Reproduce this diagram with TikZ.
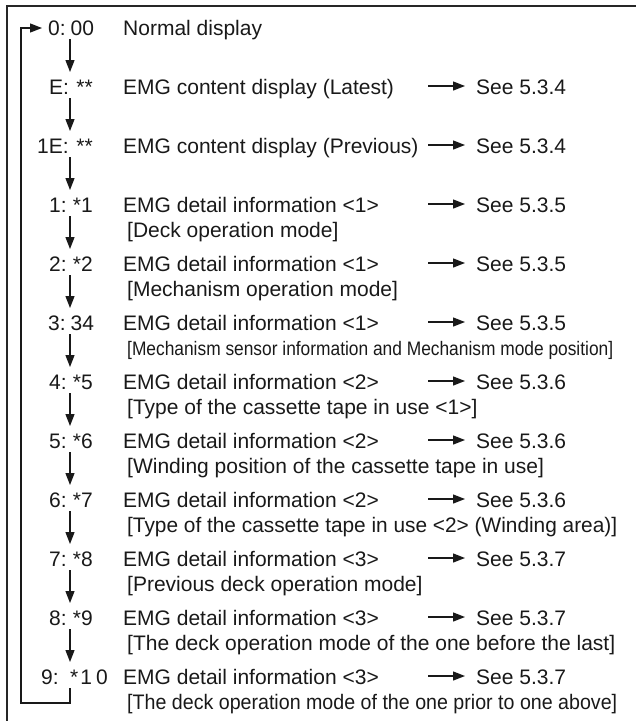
\documentclass[tikz,border=0pt]{standalone}
\usepackage{fontspec}
\setmainfont{Liberation Sans}
\usetikzlibrary{arrows.meta}
\begin{document}
\begin{tikzpicture}[x=1pt,y=-1pt,
  txt/.style={font=\fontsize{21}{25}\selectfont, inner sep=0pt, anchor=base west, text=black!90},
  txte/.style={txt, anchor=base east},
  flow/.style={line width=1.3pt, draw=black!90, -{Triangle[length=12pt,width=9pt]}},
  seearrow/.style={flow, shorten >=11pt},
  frame/.style={line width=1.5pt, draw=black!85}]
\useasboundingbox (0,0) rectangle (636,721);
\draw[frame] (7,721) -- (7,6) -- (636,6);

% labels: prefix and value
\node[txt]  (p0)  at (48,35.5)  {0:};  \node[txt]  (v0)  at (70.5,35.5)  {00};
\node[txt]  (p1)  at (49,94.5)  {E:};  \node[txte] (v1)  at (93,94.5)  {**};
\node[txt]  (p2)  at (37,153.5) {1E:}; \node[txte] (v2)  at (93,153.5) {**};
\node[txt]  (p3)  at (49,212.5) {1:};  \node[txte] (v3)  at (93,212.5) {*1};
\node[txt]  (p4)  at (49,271.5) {2:};  \node[txte] (v4)  at (93,271.5) {*2};
\node[txt]  (p5)  at (48,330.5) {3:};  \node[txt]  (v5)  at (70.5,330.5) {34};
\node[txt]  (p6)  at (49,389.5) {4:};  \node[txte] (v6)  at (93,389.5) {*5};
\node[txt]  (p7)  at (49,448.5) {5:};  \node[txte] (v7)  at (93,448.5) {*6};
\node[txt]  (p8)  at (49,507.5) {6:};  \node[txte] (v8)  at (93,507.5) {*7};
\node[txt]  (p9)  at (49,566.5) {7:};  \node[txte] (v9)  at (93,566.5) {*8};
\node[txt]  (p10) at (49,625.5) {8:};  \node[txte] (v10) at (93,625.5) {*9};
\node[txt]  (p11) at (41,684.5) {9:};  \node[txt]  (v11) at (70,684.5) {*\hspace{2pt}1\hspace{4pt}0};

% main texts
\node[txt] (t0)  at (123,35.5)  {Normal display};
\node[txt] (t1)  at (123,94.5)  {EMG content display (Latest)};
\node[txt] (t2)  at (123,153.5) {EMG content display (Previous)};
\node[txt] (t3)  at (123,212.5) {EMG detail information <1>};
\node[txt] (t4)  at (123,271.5) {EMG detail information <1>};
\node[txt] (t5)  at (123,330.5) {EMG detail information <1>};
\node[txt] (t6)  at (123,389.5) {EMG detail information <2>};
\node[txt] (t7)  at (123,448.5) {EMG detail information <2>};
\node[txt] (t8)  at (123,507.5) {EMG detail information <2>};
\node[txt] (t9)  at (123,566.5) {EMG detail information <3>};
\node[txt] (t10) at (123,625.5) {EMG detail information <3>};
\node[txt] (t11) at (123,684.5) {EMG detail information <3>};

% bracket lines
\node[txt] (b3)  at (127,237.5) {[Deck operation mode]};
\node[txt] (b4)  at (127,296.5) {[Mechanism operation mode]};
\node[txt] (b5)  at (127,355.5) {\resizebox{486pt}{0.93\height}{[Mechanism sensor information and Mechanism mode position]}};
\node[txt] (b6)  at (127,414.5) {[Type of the cassette tape in use <1>]};
\node[txt] (b7)  at (127,473.5) {[Winding position of the cassette tape in use]};
\node[txt] (b8)  at (127,532.5) {\resizebox{490pt}{\height}{[Type of the cassette tape in use <2> (Winding area)]}};
\node[txt] (b9)  at (127,591.5) {[Previous deck operation mode]};
\node[txt] (b10) at (127,650.5) {[The deck operation mode of the one before the last]};
\node[txt] (b11) at (127,709.5) {\resizebox{490pt}{\height}{[The deck operation mode of the one prior to one above]}};

% see references
\node[txt] (s1)  at (476,94.5)  {See 5.3.4};
\node[txt] (s2)  at (476,153.5) {See 5.3.4};
\node[txt] (s3)  at (476,212.5) {See 5.3.5};
\node[txt] (s4)  at (476,271.5) {See 5.3.5};
\node[txt] (s5)  at (476,330.5) {See 5.3.5};
\node[txt] (s6)  at (476,389.5) {See 5.3.6};
\node[txt] (s7)  at (476,448.5) {See 5.3.6};
\node[txt] (s8)  at (476,507.5) {See 5.3.6};
\node[txt] (s9)  at (476,566.5) {See 5.3.7};
\node[txt] (s10) at (476,625.5) {See 5.3.7};
\node[txt] (s11) at (476,684.5) {See 5.3.7};

% coordinates for arrows
\foreach \i/\yc in {0/28,1/87,2/146,3/205,4/264,5/323,6/382,7/441,8/500,9/559,10/618,11/677}{
  \coordinate (d\i) at (70,\yc+11);
  \coordinate (u\i) at (70,\yc-15);
  \coordinate (r\i) at (428,\yc-1);
}
% vertical flow arrows
\foreach \i/\j in {0/1,1/2,2/3,3/4,4/5,5/6,6/7,7/8,8/9,9/10,10/11}{
  \draw[flow] (d\i) -- (u\j);
}
% see arrows
\foreach \i in {1,...,11}{
  \draw[seearrow] (r\i) -- (s\i.west |- r\i);
}
% loop back
\coordinate (lb) at (70,703);
\coordinate (ll) at (21,703);
\coordinate (lt) at (21,28);
\draw[flow, shorten >=6pt] (d11) -- (lb) -- (ll) -- (lt) -- (p0.west |- lt);
\end{tikzpicture}
\end{document}
